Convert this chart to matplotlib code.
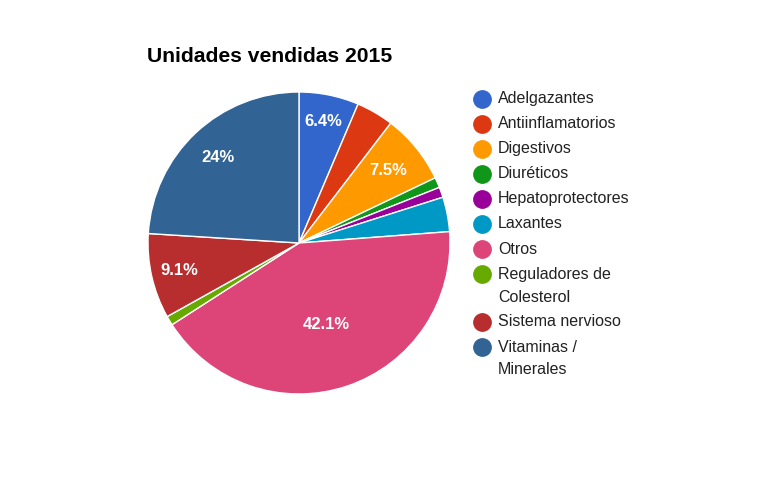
import matplotlib.pyplot as plt
import numpy as np

plt.rcParams['font.family'] = ['Liberation Sans', 'DejaVu Sans']

categorias = ['Adelgazantes', 'Antiinflamatorios', 'Digestivos', 'Diuréticos',
              'Hepatoprotectores', 'Laxantes', 'Otros', 'Reguladores de\nColesterol',
              'Sistema nervioso', 'Vitaminas /\nMinerales']
porcentajes = [6.4, 4.0, 7.5, 1.1, 1.1, 3.7, 42.1, 1.0, 9.1, 24.0]
etiquetas = ['6.4%', '', '7.5%', '', '', '', '42.1%', '', '9.1%', '24%']
colores = ['#3366cc', '#dc3912', '#ff9900', '#109618', '#990099',
           '#0099c6', '#dd4477', '#66aa00', '#b82e2e', '#316395']
dist_etiqueta = [0.82, 0.8, 0.76, 0.8, 0.8, 0.8, 0.57, 0.8, 0.81, 0.78]

W, H = 758, 484
fig = plt.figure(figsize=(W / 100, H / 100), dpi=100)

# pie: center (299,243) px, radius 151 px
r = 151
ax = fig.add_axes([(299 - r) / W, (H - 243 - r) / H, 2 * r / W, 2 * r / H])
wedges, _ = ax.pie(porcentajes, colors=colores, startangle=90, counterclock=False,
                   radius=1, wedgeprops=dict(edgecolor='white', linewidth=1))
ax.set_xlim(-1, 1)
ax.set_ylim(-1, 1)
ax.set_aspect('equal')

for w, txt, d in zip(wedges, etiquetas, dist_etiqueta):
    if not txt:
        continue
    ang = np.deg2rad((w.theta1 + w.theta2) / 2)
    ax.text(d * np.cos(ang), d * np.sin(ang), txt, ha='center', va='center',
            color='white', fontsize=12, fontweight='bold')

fig.text(147 / W, 1 - 57 / H, 'Unidades vendidas 2015', ha='left', va='center',
         fontsize=15.2, fontweight='bold', color='#000000')

# legend
lax = fig.add_axes([0, 0, 1, 1])
lax.set_xlim(0, W)
lax.set_ylim(H, 0)
lax.axis('off')
y = 99
for cat, col in zip(categorias, colores):
    lax.plot(482, y, 'o', color=col, markersize=12.5)
    lineas = cat.split('\n')
    for i, ln in enumerate(lineas):
        lax.text(498, y + i * 23, ln, ha='left', va='center', fontsize=11.5, color='#222222')
    y += 25 + 23 * (len(lineas) - 1)

fig.savefig('out.png', dpi=100, facecolor='white')
